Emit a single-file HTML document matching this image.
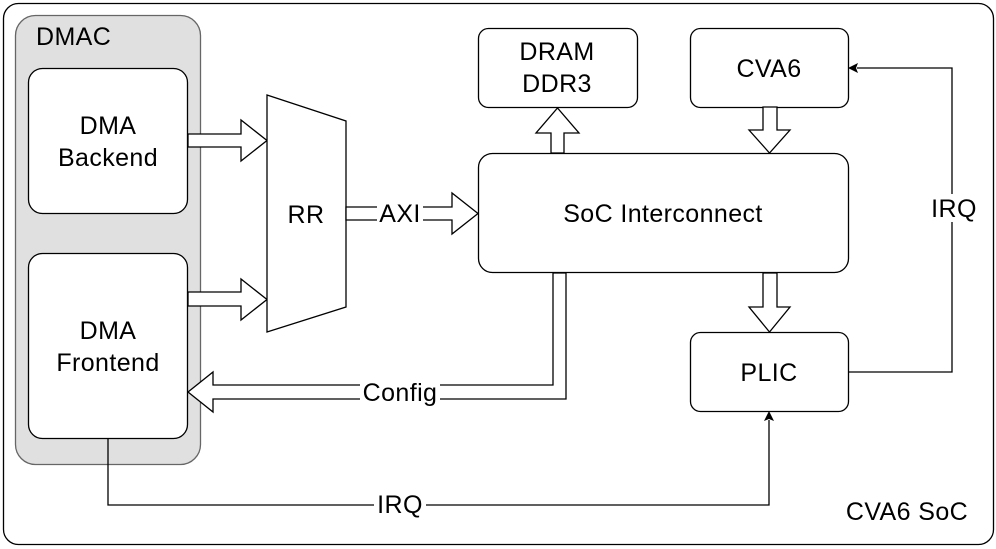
<!DOCTYPE html>
<html><head><meta charset="utf-8"><style>
html,body{margin:0;padding:0;background:#fff;}
svg{display:block;}
text{font-family:"Liberation Sans",sans-serif;font-size:25px;letter-spacing:0.4px;fill:#000;}
</style></head><body>
<svg width="996" height="549" viewBox="0 0 996 549" xmlns="http://www.w3.org/2000/svg">
<rect x="3.5" y="3.5" width="990" height="541" rx="15" fill="#fff" stroke="#000" stroke-width="1.3"/>
<rect x="15.5" y="15.5" width="185" height="449" rx="20" fill="#e0e0e0" stroke="#666" stroke-width="1.3"/>
<text x="36" y="45">DMAC</text>
<rect x="28.5" y="68.5" width="159" height="145" rx="14" fill="#fff" stroke="#000" stroke-width="1.3"/>
<text x="108" y="134" text-anchor="middle">DMA</text>
<text x="108" y="166" text-anchor="middle">Backend</text>
<rect x="28.5" y="253.5" width="159" height="185" rx="14" fill="#fff" stroke="#000" stroke-width="1.3"/>
<text x="108" y="339" text-anchor="middle">DMA</text>
<text x="108" y="371" text-anchor="middle">Frontend</text>
<g fill="#fff" stroke="#000" stroke-width="1.3">
<polygon points="188,134 241,134 241,120 267,140.5 241,161 241,147 188,147"/>
<polygon points="188,292 241,292 241,279 267,299.5 241,320 241,306 188,306"/>
<polygon points="267,95 346,121 346,307 267,332"/>
<polygon points="346,207 452,207 452,193 478,213.5 452,234 452,220 346,220"/>
<rect x="478.5" y="153.5" width="370" height="119" rx="14"/>
<rect x="478.5" y="28.5" width="159" height="79" rx="10"/>
<rect x="690.5" y="28.5" width="158" height="79" rx="10"/>
<rect x="690.5" y="332.5" width="158" height="79" rx="10"/>
<polygon points="551,153 551,133 536,133 557.5,108 579,133 564,133 564,153"/>
<polygon points="763,107 777,107 777,130 790,130 769.5,153 749,130 763,130"/>
<polygon points="763,273 777,273 777,307 790,307 769.5,332 749,307 763,307"/>
<polygon points="553,273 566,273 566,399 213,399 213,412 188,392 213,372 213,385 553,385"/>
</g>
<text x="306" y="223" text-anchor="middle">RR</text>
<rect x="377" y="200" width="46" height="26" fill="#fff"/>
<text x="400" y="222" text-anchor="middle">AXI</text>
<text x="557" y="60" text-anchor="middle">DRAM</text>
<text x="557" y="92" text-anchor="middle">DDR3</text>
<text x="769" y="77" text-anchor="middle">CVA6</text>
<text x="663" y="222" text-anchor="middle">SoC Interconnect</text>
<text x="769" y="381" text-anchor="middle">PLIC</text>
<rect x="360" y="378" width="80" height="28" fill="#fff"/>
<text x="400" y="401" text-anchor="middle">Config</text>
<g fill="none" stroke="#000" stroke-width="1.3">
<polyline points="848,372 952,372 952,68 857,68"/>
<polyline points="108,438 108,505 769,505 769,420"/>
</g>
<polygon points="848,68 858,63 856,68 858,73" fill="#000"/>
<polygon points="769,411 764,421 769,419 774,421" fill="#000"/>
<rect x="928" y="194" width="50" height="28" fill="#fff"/>
<text x="954" y="217" text-anchor="middle">IRQ</text>
<rect x="374" y="490" width="52" height="28" fill="#fff"/>
<text x="400" y="513" text-anchor="middle">IRQ</text>
<text x="907" y="520" text-anchor="middle">CVA6 SoC</text>
</svg>
</body></html>
